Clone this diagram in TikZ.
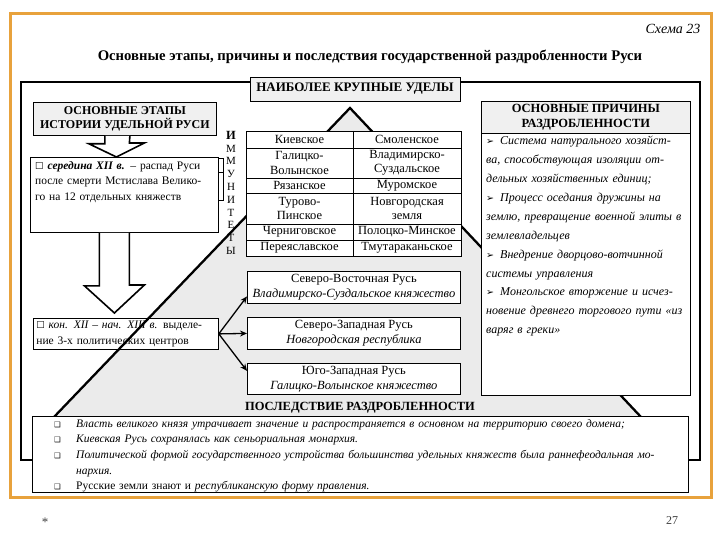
\documentclass[tikz,border=0pt]{standalone}
\usepackage{fontspec}
\setmainfont{Liberation Serif}
\newfontfamily\symf{DejaVu Sans}
\usetikzlibrary{arrows.meta,calc}
\definecolor{frameorange}{HTML}{E8A23C}
\definecolor{boxgray}{HTML}{F0F0F0}
\definecolor{pyrgray}{HTML}{EBEBEB}
\definecolor{footgray}{HTML}{404040}
\newcommand{\chk}{{\symf\fontsize{9.5}{9.5}\selectfont ☐}}
\newcommand{\qbul}{{\symf\fontsize{7.5}{7.5}\selectfont ❑}}
\newcommand{\abul}{{\symf\fontsize{9.5}{9.5}\selectfont ➢}}
\newcommand{\fillline}[2]{\makebox[#1][s]{#2}}
\begin{document}
\begin{tikzpicture}[x=1pt,y=-1pt,
  hdrbox/.style={draw=black,line width=0.8pt,fill=boxgray,align=center,inner sep=0pt,font=\bfseries\fontsize{12.5}{14.5}\selectfont},
  wbox/.style={draw=black,line width=0.8pt,fill=white,inner sep=0pt},
  celltext/.style={align=center,inner sep=0pt,font=\fontsize{12.5}{14.5}\selectfont},
  blockarrow/.style={draw=black,line width=1.6pt,fill=white,line join=miter},
  fanarrow/.style={-{Stealth[length=7pt,width=6pt]},line width=1.3pt},
  pyr/.style={line width=2.3pt,line join=miter},
  rule/.style={line width=0.7pt}
]
\useasboundingbox (0,0) rectangle (720,540);
\fill[white] (0,0) rectangle (720,540);
\draw[frameorange,line width=3pt] (10,14) rectangle (711,497);
\node[anchor=east,font=\itshape\fontsize{14}{15}\selectfont] (schema) at (704,29) {Схема 23};
\node[font=\bfseries\fontsize{14.7}{17}\selectfont] (title) at (370,57) {Основные этапы, причины и последствия государственной раздробленности Руси};
% outer black frame
\draw[line width=2.6pt,line join=miter] (32,460) -- (21,460) -- (21,82) -- (700,82) -- (700,460) -- (688,460);
% pyramid
\coordinate (apex) at (350,108);
\coordinate (baseL) at (54,417);
\coordinate (baseR) at (641,417);
\fill[pyrgray] (apex) -- (baseL) -- (baseR) -- cycle;
% kon box (line passes over it)
\node[wbox,minimum width=185,minimum height=31,anchor=north west,text width=179pt,inner xsep=3pt,align=left,font=\fontsize{11.5}{15.5}\selectfont] (kon) at (33,318)
 {\fillline{179pt}{\chk\ {\itshape кон. XII – нач. XIII в.} выделе-}\\ние 3-х политических центров};
\draw[pyr] (baseL) -- (apex) -- (baseR);
% top header
\node[hdrbox,minimum width=210,minimum height=24,font=\bfseries\fontsize{13}{14}\selectfont] (udely) at (355,89) {НАИБОЛЕЕ КРУПНЫЕ УДЕЛЫ};
% table
\node[wbox,minimum width=215,minimum height=125,anchor=north west] (table) at (246,131) {};
\draw[rule] (353,131) -- (353,256);
\foreach \yy in {148,178,193,224,240} \draw[rule] (246,\yy) -- (461,\yy);
\node[celltext] (c11) at (299.5,139.5) {Киевское};
\node[celltext] (c12) at (407,139.5) {Смоленское};
\node[celltext] (c21) at (299.5,163) {Галицко-\\Волынское};
\node[celltext] (c22) at (407,163) {Владимирско-\\Суздальское};
\node[celltext] (c31) at (299.5,185.5) {Рязанское};
\node[celltext] (c32) at (407,185.5) {Муромское};
\node[celltext] (c41) at (299.5,208.5) {Турово-\\Пинское};
\node[celltext] (c42) at (407,208.5) {Новгородская\\земля};
\node[celltext] (c51) at (299.5,232) {Черниговское};
\node[celltext] (c52) at (407,232) {Полоцко-Минское};
\node[celltext] (c61) at (299.5,248) {Переяславское};
\node[celltext] (c62) at (407,248) {Тмутараканьское};
% right box
\node[wbox,minimum width=209,minimum height=294,anchor=north west] (causes) at (481,101) {};
\node[hdrbox,minimum width=209,minimum height=32,anchor=north west] (causeshdr) at (481,101) {ОСНОВНЫЕ ПРИЧИНЫ\\РАЗДРОБЛЕННОСТИ};
\node[anchor=north west,inner sep=0pt,text width=201pt,align=left,font=\itshape\fontsize{12}{18.9}\selectfont] (causestext) at (486,136)
 {\makebox[14pt][l]{\abul}\fillline{187pt}{Система натурального хозяйст-}\\
  \fillline{201pt}{ва, способствующая изоляции от-}\\
  дельных хозяйственных единиц;\\
  \makebox[14pt][l]{\abul}\fillline{187pt}{Процесс оседания дружины на}\\
  \fillline{201pt}{землю, превращение военной элиты в}\\
  землевладельцев\\
  \makebox[14pt][l]{\abul}\fillline{187pt}{Внедрение дворцово-вотчинной}\\
  системы управления\\
  \makebox[14pt][l]{\abul}\fillline{187pt}{Монгольское вторжение и исчез-}\\
  \fillline{201pt}{новение древнего торгового пути «из}\\
  варяг в греки»};
% left column
\node[hdrbox,minimum width=183,minimum height=33,anchor=north west,font=\bfseries\fontsize{12}{14.5}\selectfont] (etapy) at (33,102) {ОСНОВНЫЕ ЭТАПЫ\\ИСТОРИИ УДЕЛЬНОЙ РУСИ};
\node[wbox,minimum width=188,minimum height=75,anchor=north west] (mid) at (30,157) {};
\node[anchor=north west,inner sep=0pt,text width=180pt,align=left,font=\fontsize{11.5}{15.8}\selectfont] (midtext) at (35,161)
 {\fillline{180pt}{\chk\ {\bfseries\itshape середина XII в.} – распад Руси}\\
  \fillline{180pt}{после смерти Мстислава Велико-}\\
  го на 12 отдельных княжеств};
\draw[blockarrow] ([xshift=-20pt]etapy.south) -- ++(0,8) -- ++(-16,0) -- ([xshift=-8pt]mid.north) -- ++(28,-14) -- ++(-15,0) -- ([xshift=5pt]etapy.south);
\draw[blockarrow] ([xshift=-25pt]mid.south) -- ++(0,53) -- ++(-15,0) -- ([xshift=-11.5pt,yshift=5pt]kon.north) -- ++(30,-28) -- ++(-15,0) -- ([xshift=5pt]mid.south);
% bracket and immunities
\draw[line width=0.9pt] ([yshift=-1pt]mid.north east) -- ++(5,0) -- ++(0,42) -- ++(-5,0);
\draw[line width=0.9pt] ([yshift=-15pt]mid.north east) -- ++(5,0);
\node[anchor=north,inner sep=0pt,align=center,font=\fontsize{11}{12.8}\selectfont] (immun) at (231,131)
 {{\bfseries\fontsize{12.5}{12.8}\selectfont И}\\М\\М\\У\\Н\\И\\Т\\Е\\Т\\Ы};
% three centres
\node[wbox,minimum width=213,minimum height=32,anchor=north west,align=center,font=\fontsize{12.5}{15.5}\selectfont] (b1) at (247,271) {Северо-Восточная Русь\\\textit{Владимирско-Суздальское княжество}};
\node[wbox,minimum width=213,minimum height=32,anchor=north west,align=center,font=\fontsize{12.5}{15.5}\selectfont] (b2) at (247,317) {Северо-Западная Русь\\\textit{Новгородская республика}};
\node[wbox,minimum width=213,minimum height=31,anchor=north west,align=center,font=\fontsize{12.5}{15.5}\selectfont] (b3) at (247,363) {Юго-Западная Русь\\\textit{Галицко-Волынское княжество}};
\draw[fanarrow] (kon.east) -- ([yshift=-9pt]b1.west);
\draw[fanarrow] (kon.east) -- (b2.west);
\draw[fanarrow] (kon.east) -- ([yshift=8pt]b3.west);
% consequences
\node[font=\bfseries\fontsize{12.5}{14}\selectfont] (conseqhdr) at (360,408) {ПОСЛЕДСТВИЕ РАЗДРОБЛЕННОСТИ};
\node[wbox,minimum width=656,minimum height=76,anchor=north west] (conseq) at (32,416) {};
\node[anchor=north west,inner sep=0pt,text width=630pt,align=left,font=\fontsize{11.5}{15.7}\selectfont] (conseqtext) at (54,419)
 {\makebox[22pt][l]{\qbul}\fillline{605pt}{\itshape Власть великого князя утрачивает значение и распространяется в основном на территорию своего домена;}\\
  \makebox[22pt][l]{\qbul}{\itshape Киевская Русь сохранялась как сеньориальная монархия.}\\
  \makebox[22pt][l]{\qbul}\fillline{605pt}{\itshape Политической формой государственного устройства большинства удельных княжеств была раннефеодальная мо-}\\
  \hspace*{22pt}{\itshape нархия.}\\
  \makebox[22pt][l]{\qbul}Русские земли знают и {\itshape республиканскую форму правления.}};
% footer
\node[font=\fontsize{13}{14}\selectfont,text=footgray] (star) at (45,522) {*};
\node[font=\fontsize{12}{13}\selectfont,text=footgray] (pagenum) at (672,521) {27};
\end{tikzpicture}
\end{document}
